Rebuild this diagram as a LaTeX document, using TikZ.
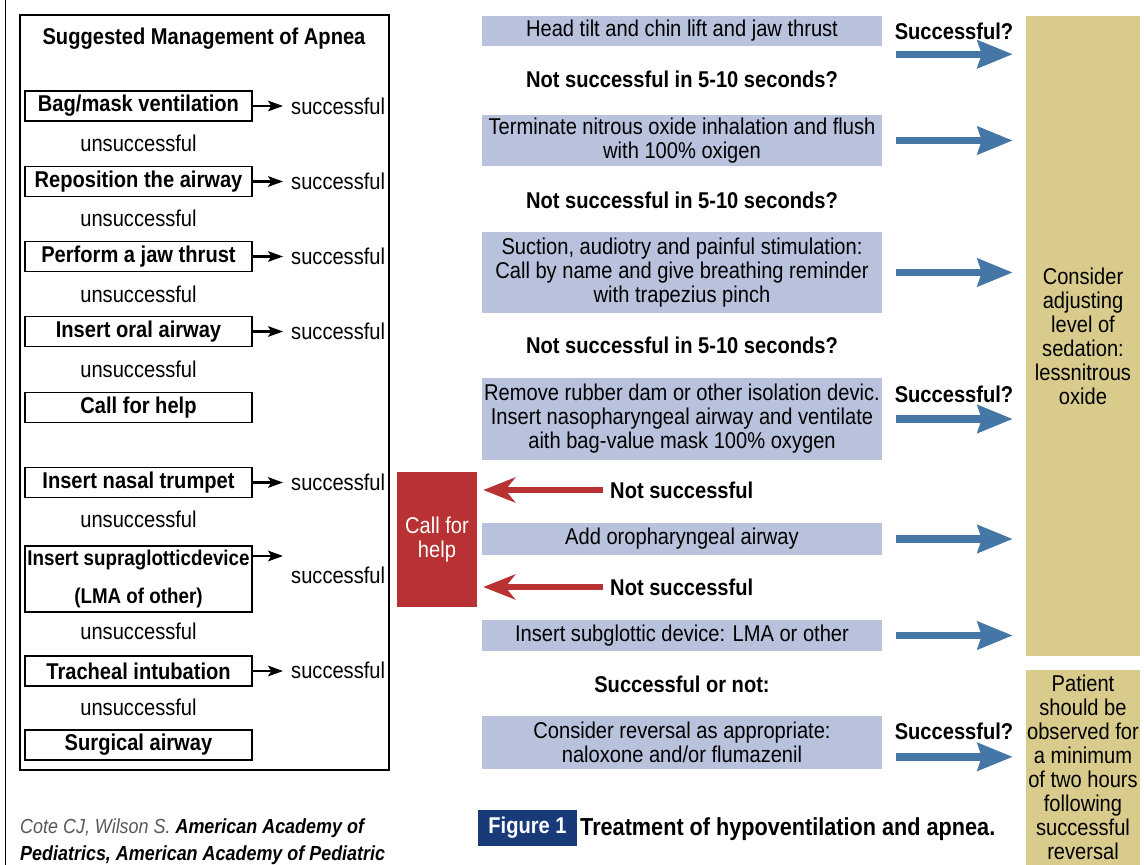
\documentclass[tikz,border=0pt]{standalone}
\usepackage{fontspec}
\setmainfont[FakeStretch=0.88]{Liberation Sans}
\usetikzlibrary{arrows.meta}
\definecolor{actgrey}{HTML}{B9C2DD}
\definecolor{notetan}{HTML}{D8CB8C}
\definecolor{helpred}{HTML}{B83234}
\definecolor{goblue}{HTML}{4476A6}
\definecolor{figblue}{HTML}{183A79}
\begin{document}
\begin{tikzpicture}[x=0.03cm,y=-0.03cm,font=\fontsize{19.5}{20.5}\selectfont]

    \tikzset{
      stepbox/.style={draw,line width=0.9pt,minimum width=6.81cm,minimum height=0.9cm,
        inner sep=0pt,font=\fontsize{19.5}{20.5}\selectfont\bfseries},
      oklabel/.style={anchor=west,inner sep=0pt},
      nolabel/.style={inner sep=0pt},
      okarrow/.style={line width=1.8pt,shorten >=0.24cm,
        -{Stealth[length=0.45cm,width=0.32cm,inset=0.1cm]}},
      actbox/.style={fill=actgrey,minimum width=12cm,inner sep=0pt,align=center},
      asklabel/.style={inner sep=0pt,font=\fontsize{19.5}{20.5}\selectfont\bfseries},
      note/.style={fill=notetan,minimum width=3.42cm,inner sep=0pt,align=center},
      goarrow/.style={goblue,line width=0.22cm,shorten <=0.42cm,shorten >=0.39cm,
        -{Stealth[length=1.05cm,width=0.82cm,inset=0.12cm]}},
      backarrow/.style={helpred,line width=0.18cm,shorten <=0.21cm,shorten >=0.18cm,
        -{Stealth[length=0.96cm,width=0.75cm,inset=0.3cm]}},
    }
    \useasboundingbox (0,0) rectangle (1144,865);
    \draw[line width=0.8pt] (5,0) -- (5,865);

    % left panel
    \draw[line width=1pt] (20,15) rectangle (389,770);
    \node[asklabel] (ttl) at (204,39) {Suggested Management of Apnea};

    \node[stepbox] (s1) at (138.5,106) {Bag/mask ventilation};
    \node[oklabel] (k1) at (291,106) {successful};
    \node[nolabel] (u1) at (138.5,143) {unsuccessful};
    \node[stepbox] (s2) at (138.5,181.5) {Reposition the airway};
    \node[oklabel] (k2) at (291,181.5) {successful};
    \node[nolabel] (u2) at (138.5,218) {unsuccessful};
    \node[stepbox] (s3) at (138.5,256.5) {Perform a jaw thrust};
    \node[oklabel] (k3) at (291,256.5) {successful};
    \node[nolabel] (u3) at (138.5,294) {unsuccessful};
    \node[stepbox] (s4) at (138.5,331.5) {Insert oral airway};
    \node[oklabel] (k4) at (291,331.5) {successful};
    \node[nolabel] (u4) at (138.5,369) {unsuccessful};
    \node[stepbox] (s5) at (138.5,407.5) {Call for help};

    \node[stepbox] (s6) at (138.5,482.5) {Insert nasal trumpet};
    \node[oklabel] (k6) at (291,482.5) {successful};
    \node[nolabel] (u6) at (138.5,519) {unsuccessful};
    \node[stepbox,minimum height=1.98cm,align=center,
      font=\fontsize{18.2}{32}\selectfont\bfseries] (s7) at (138.5,579)
      {Insert supraglotticdevice\\(LMA of other)};
    \coordinate (k7tip) at (291,556);
    \node[oklabel] (k7) at (291,575) {successful};
    \node[nolabel] (u7) at (138.5,631) {unsuccessful};
    \node[stepbox] (s8) at (138.5,671) {Tracheal intubation};
    \node[oklabel] (k8) at (291,670) {successful};
    \node[nolabel] (u8) at (138.5,707) {unsuccessful};
    \node[stepbox] (s9) at (138.5,745) {Surgical airway};

    \foreach \i in {1,2,3,4,6,8}
      \draw[okarrow] (s\i.east) -- (k\i.west |- s\i.east);
    \draw[okarrow] (s7.east |- k7tip) -- (k7tip);

    \node[anchor=west,inner sep=0pt,font=\fontsize{17.4}{20.5}\selectfont] (cite1) at (20,828)
      {{\color{black!65}\itshape Cote CJ, Wilson S. }\bfseries\itshape American Academy of};
    \node[anchor=west,inner sep=0pt,font=\fontsize{17.4}{20.5}\selectfont\bfseries\itshape]
      (cite2) at (20,855) {Pediatrics, American Academy of Pediatric};

    % right panel
    \node[actbox,minimum height=0.9cm] (a1) at (682,31) {Head tilt and chin lift and jaw thrust};
    \node[asklabel] (q1) at (682,79) {Not successful in 5-10 seconds?};
    \node[actbox,minimum height=1.53cm] (a2) at (682,140.5)
      {Terminate nitrous oxide inhalation and flush\\with 100\% oxigen};
    \node[asklabel] (q2) at (682,200) {Not successful in 5-10 seconds?};
    \node[actbox,minimum height=2.43cm] (a3) at (682,272.5)
      {Suction, audiotry and painful stimulation:\\Call by name and give breathing reminder\\with trapezius pinch};
    \node[asklabel] (q3) at (682,345) {Not successful in 5-10 seconds?};
    \node[actbox,minimum height=2.46cm] (a4) at (682,419)
      {Remove rubber dam or other isolation devic.\\Insert nasopharyngeal airway and ventilate\\aith bag-value mask 100\% oxygen};
    \node[asklabel,anchor=west] (n1) at (610,490) {Not successful};
    \node[actbox,minimum height=0.96cm] (a5) at (682,539) {Add oropharyngeal airway};
    \node[asklabel,anchor=west] (n2) at (610,587) {Not successful};
    \node[actbox,minimum height=0.93cm] (a6) at (682,635.5) {Insert subglottic device: LMA or other};
    \node[asklabel] (q4) at (682,684) {Successful or not:};
    \node[actbox,minimum height=1.59cm] (a7) at (682,742.5)
      {Consider reversal as appropriate:\\naloxone and/or flumazenil};

    \node[fill=helpred,text=white,minimum width=2.4cm,minimum height=4.05cm,
      inner sep=0pt,align=center] (help) at (437,539.5) {Call for\\help};
    \draw[backarrow] (n1.west) -- (help.east |- n1.west);
    \draw[backarrow] (n2.west) -- (help.east |- n2.west);

    \node[note,minimum height=19.2cm] (adjust) at (1083,336)
      {Consider\\adjusting\\level of\\sedation:\\lessnitrous\\oxide};
    \node[note,minimum height=5.85cm] (observe) at (1083,767.5)
      {Patient\\should be\\observed for\\a minimum\\of two hours\\following\\successful\\reversal};

    \node[asklabel] (y1) at (954,31) {Successful?};
    \node[asklabel] (y4) at (954,394) {Successful?};
    \node[asklabel] (y7) at (954,731) {Successful?};

    \draw[goarrow] ([yshift=-0.24cm]a1.south east) -- ([yshift=-0.24cm]adjust.west |- a1.south east);
    \foreach \i in {2,3,4,5,6}
      \draw[goarrow] (a\i.east) -- (adjust.west |- a\i.east);
    \draw[goarrow] ([yshift=-0.43cm]a7.east) -- ([yshift=-0.43cm]observe.west |- a7.east);

    \node[fill=figblue,text=white,minimum width=2.97cm,minimum height=1.08cm,inner sep=0pt,
      font=\fontsize{19.5}{20.5}\selectfont\bfseries] (fig) at (527.5,828) {Figure 1};
    \node[asklabel,anchor=west,font=\fontsize{21}{20.5}\selectfont\bfseries] (cap) at (580,829)
      {Treatment of hypoventilation and apnea.};

\end{tikzpicture}
\end{document}
